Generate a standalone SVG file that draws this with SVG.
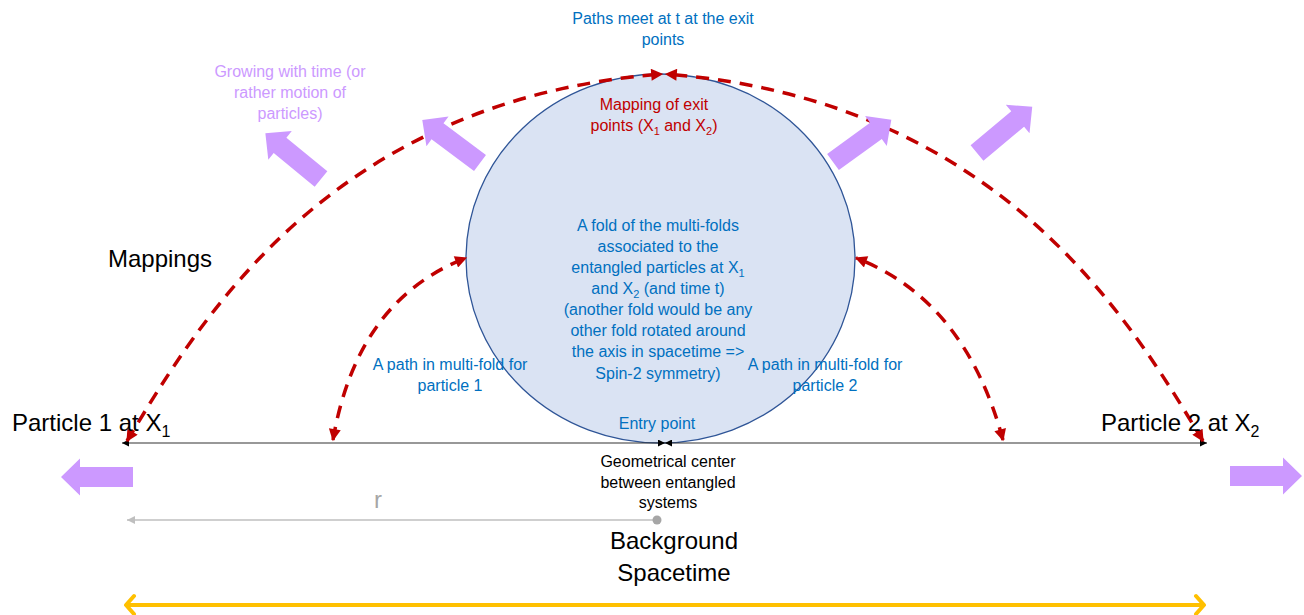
<svg xmlns="http://www.w3.org/2000/svg" width="1304" height="615" viewBox="0 0 1304 615">
<style>
text{font-family:"Liberation Sans",Arial,sans-serif}
.blue{fill:#0070C0;font-size:16px;text-anchor:middle}
.purple{fill:#CC99FF;font-size:16px;text-anchor:middle}
.redt{fill:#C00000;font-size:16px;text-anchor:middle}
.blk{fill:#000;font-size:16px;text-anchor:middle}
.big{fill:#000;font-size:24px}
.dash{fill:none;stroke:#C00000;stroke-width:3.5;stroke-dasharray:13 9;marker-start:url(#ar);marker-end:url(#ar)}
.blkline{fill:none;stroke:#333;stroke-width:1.2;marker-start:url(#ab);marker-end:url(#ab)}
.blk-arrow{fill:#CC99FF}
</style>
<defs>
<marker id="ar" viewBox="0 0 10 10" refX="9" refY="5" markerWidth="13" markerHeight="12" markerUnits="userSpaceOnUse" orient="auto-start-reverse"><path d="M0,0 L10,5 L0,10 z" fill="#C00000"/></marker>
<marker id="ab" viewBox="0 0 10 10" refX="10" refY="5" markerWidth="8" markerHeight="7" markerUnits="userSpaceOnUse" orient="auto-start-reverse"><path d="M0,0 L10,5 L0,10 z" fill="#000"/></marker>
<marker id="ag" viewBox="0 0 10 10" refX="10" refY="5" markerWidth="8" markerHeight="8" markerUnits="userSpaceOnUse" orient="auto"><path d="M0,0 L10,5 L0,10 z" fill="#BFBFBF"/></marker>
<marker id="ao" viewBox="0 0 10 20" refX="9" refY="10" markerWidth="10" markerHeight="20" markerUnits="userSpaceOnUse" orient="auto-start-reverse" overflow="visible"><path d="M1,1 L9,10 L1,19" fill="none" stroke="#FFC000" stroke-width="4" stroke-linecap="round" stroke-linejoin="round"/></marker>
<path id="barrow" d="M0,-10 L53,-10 L53,-18.5 L72,0 L53,18.5 L53,10 L0,10 Z"/>
</defs>

<g id="fold">
<ellipse cx="660.5" cy="258.5" rx="194.5" ry="184.5" fill="#DAE3F3" stroke="#2F5597" stroke-width="1.3"/>
<text class="blue"><tspan x="658" y="231">A fold of the multi-folds</tspan><tspan x="658" y="252">associated to the</tspan><tspan x="658" y="273">entangled particles at X<tspan font-size="11" dy="4">1</tspan></tspan><tspan x="658" y="294">and X<tspan font-size="11" dy="4">2</tspan><tspan dy="-4"> (and time t)</tspan></tspan><tspan x="658" y="315">(another fold would be any</tspan><tspan x="658" y="336">other fold rotated around</tspan><tspan x="658" y="357">the axis in spacetime =&gt;</tspan><tspan x="658" y="379">Spin-2 symmetry)</tspan></text>
</g>

<g id="connectors">
<path class="blkline" d="M665,443 L122,443"/>
<path class="blkline" d="M665,443 L1207,443"/>
<path class="dash" d="M127,441 C200,320 330,100 662,74"/>
<path class="dash" d="M1203,441 C1130,320 1000,100 666,74"/>
<path class="dash" d="M333,440 Q357,300 466,258"/>
<path class="dash" d="M1003,440 Q965,300 856,258"/>
<path d="M657,520 L127,520" fill="none" stroke="#BFBFBF" stroke-width="1.5" marker-end="url(#ag)"/>
<circle cx="657" cy="520" r="4.5" fill="#A6A6A6"/>
<path d="M126,605 L1204,605" fill="none" stroke="#FFC000" stroke-width="4" marker-start="url(#ao)" marker-end="url(#ao)"/>
</g>

<g id="motion-arrows" class="blk-arrow">
<use href="#barrow" transform="translate(133,477) rotate(180)"/>
<use href="#barrow" transform="translate(1230,476)"/>
<use href="#barrow" transform="translate(321,179) rotate(219.4)"/>
<use href="#barrow" transform="translate(480,163) rotate(216.7)"/>
<use href="#barrow" transform="translate(833,162) rotate(-35.9)"/>
<use href="#barrow" transform="translate(977,153) rotate(-39.9)"/>
</g>

<g id="labels">
<text class="blue"><tspan x="663" y="24">Paths meet at t at the exit</tspan><tspan x="663" y="45">points</tspan></text>
<text class="purple"><tspan x="290" y="77">Growing with time (or</tspan><tspan x="290" y="98">rather motion of</tspan><tspan x="290" y="119">particles)</tspan></text>
<text class="redt"><tspan x="654" y="110">Mapping of exit</tspan><tspan x="654" y="131">points (X<tspan font-size="11" dy="4">1</tspan><tspan dy="-4"> and X</tspan><tspan font-size="11" dy="4">2</tspan><tspan dy="-4">)</tspan></tspan></text>
<text class="big" x="108" y="267">Mappings</text>
<text class="blue"><tspan x="450" y="370">A path in multi-fold for</tspan><tspan x="450" y="391">particle 1</tspan></text>
<text class="blue"><tspan x="825" y="370">A path in multi-fold for</tspan><tspan x="825" y="391">particle 2</tspan></text>
<text class="blue" x="657" y="429">Entry point</text>
<text class="blk"><tspan x="668" y="467">Geometrical center</tspan><tspan x="668" y="488">between entangled</tspan><tspan x="668" y="508">systems</tspan></text>
<text class="big" x="12" y="431">Particle 1 at X<tspan font-size="16" dy="6">1</tspan></text>
<text class="big" x="1101" y="431">Particle 2 at X<tspan font-size="16" dy="6">2</tspan></text>
<text x="378" y="508" fill="#A6A6A6" font-size="24" text-anchor="middle">r</text>
<text class="big" text-anchor="middle"><tspan x="674" y="549">Background</tspan><tspan x="674" y="581">Spacetime</tspan></text>
</g>
</svg>
